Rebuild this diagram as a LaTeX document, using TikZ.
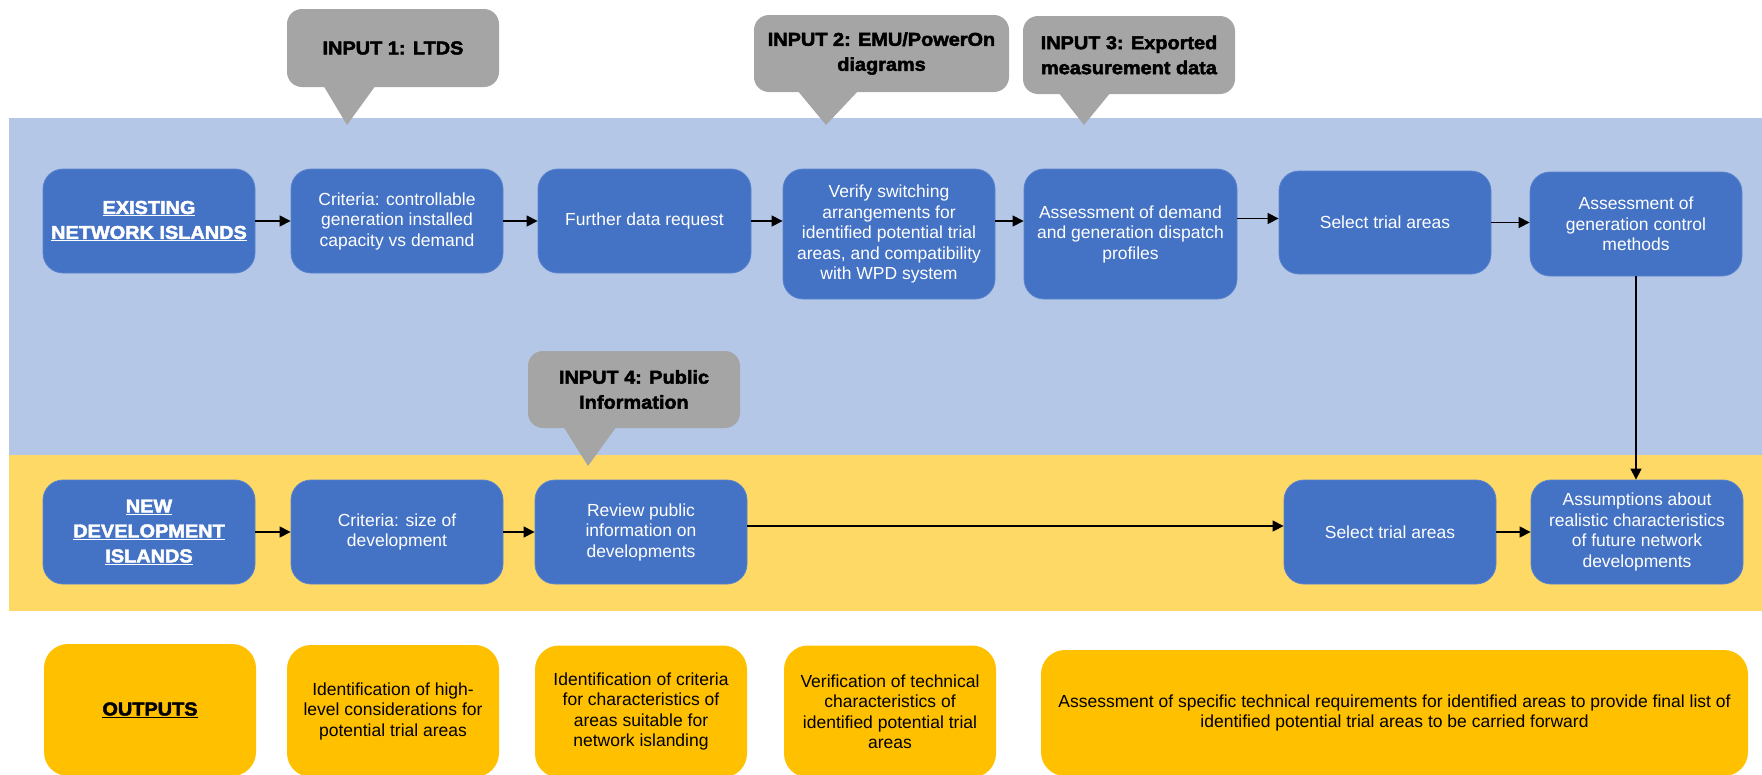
\documentclass[tikz,border=0pt]{standalone}
\usepackage{fontspec}
\setmainfont{Liberation Sans}
\newfontfamily\heavyfont{Liberation Sans Bold}[FakeStretch=1.07,FakeBold=2.5]
\usetikzlibrary{arrows.meta}
\definecolor{bandblue}{HTML}{B4C7E7}
\definecolor{bandgold}{HTML}{FFD966}
\definecolor{stepblue}{HTML}{4472C4}
\definecolor{stepedge}{HTML}{5A84CE}
\definecolor{outgold}{HTML}{FFC000}
\definecolor{inputgray}{HTML}{A5A5A5}
\tikzset{
  stepbox/.style={fill=stepblue, draw=stepedge, line width=0.8pt,
    rounded corners=20pt, text=white, align=center,
    inner sep=0pt, minimum width=212pt, minimum height=104pt,
    font=\fontsize{17.5}{20.5}\selectfont},
  titlebox/.style={stepbox, font=\heavyfont\fontsize{18.6}{25}\selectfont},
  outbox/.style={fill=outgold, rounded corners=24pt, text=black, align=center,
    inner sep=0pt, minimum width=212pt, minimum height=132pt,
    font=\fontsize{17.5}{20.5}\selectfont},
  inbox/.style={fill=inputgray, rounded corners=15pt, text=black, align=center,
    inner sep=0pt, minimum width=212pt, minimum height=78pt,
    font=\heavyfont\fontsize{18.6}{25}\selectfont},
  pointer/.style={fill=inputgray},
  flow/.style={-{Triangle[length=11pt,width=11pt]}, line width=1.2pt, black},
}
\begin{document}
\begin{tikzpicture}[x=1pt,y=-1pt]
\useasboundingbox (0,0) rectangle (1762,774);

% swim lanes
\fill[bandblue] (9,118) rectangle (1762,455);
\fill[bandgold] (9,455) rectangle (1762,611);

% input callouts
\node[inbox] (in1) at (393,48) {INPUT 1: LTDS};
\fill[pointer] (323,85) -- (347,125) -- (376,85) -- cycle;
\node[inbox, minimum width=255pt, minimum height=77pt] (in2) at (881.5,53.5) {INPUT 2: EMU/PowerOn\\diagrams};
\fill[pointer] (797,90) -- (826,125) -- (859,90) -- cycle;
\node[inbox] (in3) at (1129,55) {INPUT 3: Exported\\measurement data};
\fill[pointer] (1058,92) -- (1084,125) -- (1111,92) -- cycle;
\node[inbox, minimum height=77pt] (in4) at (634,389.5) {INPUT 4: Public\\Information};
\fill[pointer] (563,426) -- (588,466) -- (617,426) -- cycle;

% existing network islands
\node[titlebox] (exist) at (149,221) {\underline{EXISTING}\\\underline{NETWORK ISLANDS}};
\node[stepbox] (crit) at (397,221) {Criteria: controllable\\generation installed\\capacity vs demand};
\node[stepbox, minimum width=213pt] (further) at (644.5,221) {Further data request};
\node[stepbox, minimum height=130pt] (verify) at (889,234) {Verify switching\\arrangements for\\identified potential trial\\areas, and compatibility\\with WPD system};
\node[stepbox, minimum width=213pt, minimum height=130pt] (assess) at (1130.5,234) {Assessment of demand\\and generation dispatch\\profiles};
\node[stepbox, minimum height=103pt] (select) at (1385,222.5) {Select trial areas};
\node[stepbox] (gen) at (1636,224) {Assessment of\\generation control\\methods};

% new development islands
\node[titlebox] (newdev) at (149,532) {\underline{NEW}\\\underline{DEVELOPMENT}\\\underline{ISLANDS}};
\node[stepbox] (size) at (397,532) {Criteria: size of\\development};
\node[stepbox] (review) at (641,532) {Review public\\information on\\developments};
\node[stepbox] (selb) at (1390,532) {Select trial areas};
\node[stepbox] (assum) at (1637,532) {Assumptions about\\realistic characteristics\\of future network\\developments};

% outputs
\node[outbox, font=\heavyfont\fontsize{18.6}{25}\selectfont] (out0) at (150,710) {\underline{OUTPUTS}};
\node[outbox] (out1) at (393,711) {Identification of high-\\level considerations for\\potential trial areas};
\node[outbox] (out2) at (641,711.5) {Identification of criteria\\for characteristics of\\areas suitable for\\network islanding};
\node[outbox] (out3) at (890,711.5) {Verification of technical\\characteristics of\\identified potential trial\\areas};
\node[outbox, minimum width=707pt, minimum height=126pt] (out4) at (1394.5,713) {Assessment of specific technical requirements for identified areas to provide final list of\\identified potential trial areas to be carried forward};

% connectors
\draw[flow] (exist) -- (crit);
\draw[flow] (crit) -- (further);
\draw[flow] (further.east) -- (further.east -| verify.west);
\draw[flow] (further.east -| verify.east) -- (further.east -| assess.west);
\draw[flow] ([yshift=4pt]select.west -| assess.east) -- ([yshift=4pt]select.west);
\draw[flow] (select.east) -- (select.east -| gen.west);
\draw[flow] (gen.south) -- (gen.south |- assum.north);
\draw[flow] (newdev) -- (size);
\draw[flow] (size) -- (review);
\draw[flow] ([yshift=6pt]review.east) -- ([yshift=6pt]review.east -| selb.west);
\draw[flow] (selb) -- (assum);
\end{tikzpicture}
\end{document}
